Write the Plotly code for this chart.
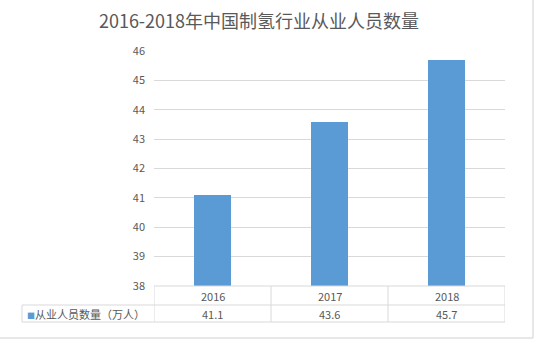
import plotly.graph_objects as go

title = "2016-2018年中国制氢行业从业人员数量"
years = ["2016", "2017", "2018"]
values = [41.1, 43.6, 45.7]
series_name = "从业人员数量（万人）"
y_ticks = [38, 39, 40, 41, 42, 43, 44, 45, 46]

W, H = 537, 340
L, R, T, B = 154, 505, 51, 286
pw, ph = R - L, B - T

def px_x(x):
    return (x - L) / pw

def px_y(y):
    return (B - y) / ph

FONT = "Noto Sans CJK SC, Microsoft YaHei, sans-serif"
GRID = "#D9D9D9"
TXT = "#595959"

fig = go.Figure()
fig.add_trace(go.Bar(
    x=list(range(len(years))), y=values, base=0,
    marker=dict(color="#5B9BD5", line=dict(width=0)),
    width=0.31, name=series_name, showlegend=False,
))

shapes = []
annotations = []
row_top, row_mid, row_bot = 286, 305, 322
for py, x0 in [(row_top, L), (row_mid, 22), (row_bot, 22)]:
    shapes.append(dict(type="line", xref="paper", yref="paper",
                       x0=px_x(x0), x1=px_x(R), y0=px_y(py), y1=px_y(py),
                       line=dict(color=GRID, width=1)))
for i in range(len(years) + 1):
    xv = i - 0.5
    shapes.append(dict(type="line", xref="x", yref="paper",
                       x0=xv, x1=xv, y0=px_y(row_top), y1=px_y(row_bot),
                       line=dict(color=GRID, width=1)))
shapes.append(dict(type="line", xref="paper", yref="paper",
                   x0=px_x(22), x1=px_x(22), y0=px_y(row_mid), y1=px_y(row_bot),
                   line=dict(color=GRID, width=1)))
shapes.append(dict(type="line", xref="paper", yref="paper",
                   x0=px_x(533), x1=px_x(533), y0=px_y(0), y1=px_y(338),
                   line=dict(color="#D0D0D0", width=1)))
shapes.append(dict(type="line", xref="paper", yref="paper",
                   x0=px_x(0), x1=px_x(533), y0=px_y(338), y1=px_y(338),
                   line=dict(color="#D0D0D0", width=1)))

for i, (yr, v) in enumerate(zip(years, values)):
    annotations.append(dict(x=i, y=px_y((row_top + row_mid) / 2), xref="x", yref="paper",
                            text=yr, showarrow=False, font=dict(size=11, color=TXT, family=FONT),
                            xanchor="center", yanchor="middle"))
    annotations.append(dict(x=i, y=px_y((row_mid + row_bot) / 2), xref="x", yref="paper",
                            text=f"{v:.1f}", showarrow=False, font=dict(size=11, color=TXT, family=FONT),
                            xanchor="center", yanchor="middle"))
annotations.append(dict(x=px_x(25), y=px_y((row_mid + row_bot) / 2), xref="paper", yref="paper",
                        text="<span style='color:#5B9BD5;font-size:8px'>■</span>" + series_name,
                        showarrow=False,
                        font=dict(size=11, color=TXT, family=FONT),
                        xanchor="left", yanchor="middle"))

fig.update_layout(
    width=W, height=H, autosize=False,
    margin=dict(l=L, r=W - R, t=T, b=H - B, pad=0),
    paper_bgcolor="white", plot_bgcolor="white",
    title=dict(text=title, x=(259) / W, xanchor="center", y=1 - 22 / H, yanchor="middle",
               font=dict(size=18, color=TXT, family=FONT)),
    xaxis=dict(range=[-0.5, 2.5], showticklabels=False, showgrid=False, zeroline=False,
               showline=False, ticks="", fixedrange=True),
    yaxis=dict(range=[38, 46], tickvals=y_ticks, showgrid=True, gridcolor=GRID, gridwidth=1,
               zeroline=False, showline=False, ticks="", ticklabelstandoff=8,
               tickfont=dict(size=11, color=TXT, family=FONT)),
    shapes=shapes, annotations=annotations, bargap=0,
)

fig.write_html("out.html")
